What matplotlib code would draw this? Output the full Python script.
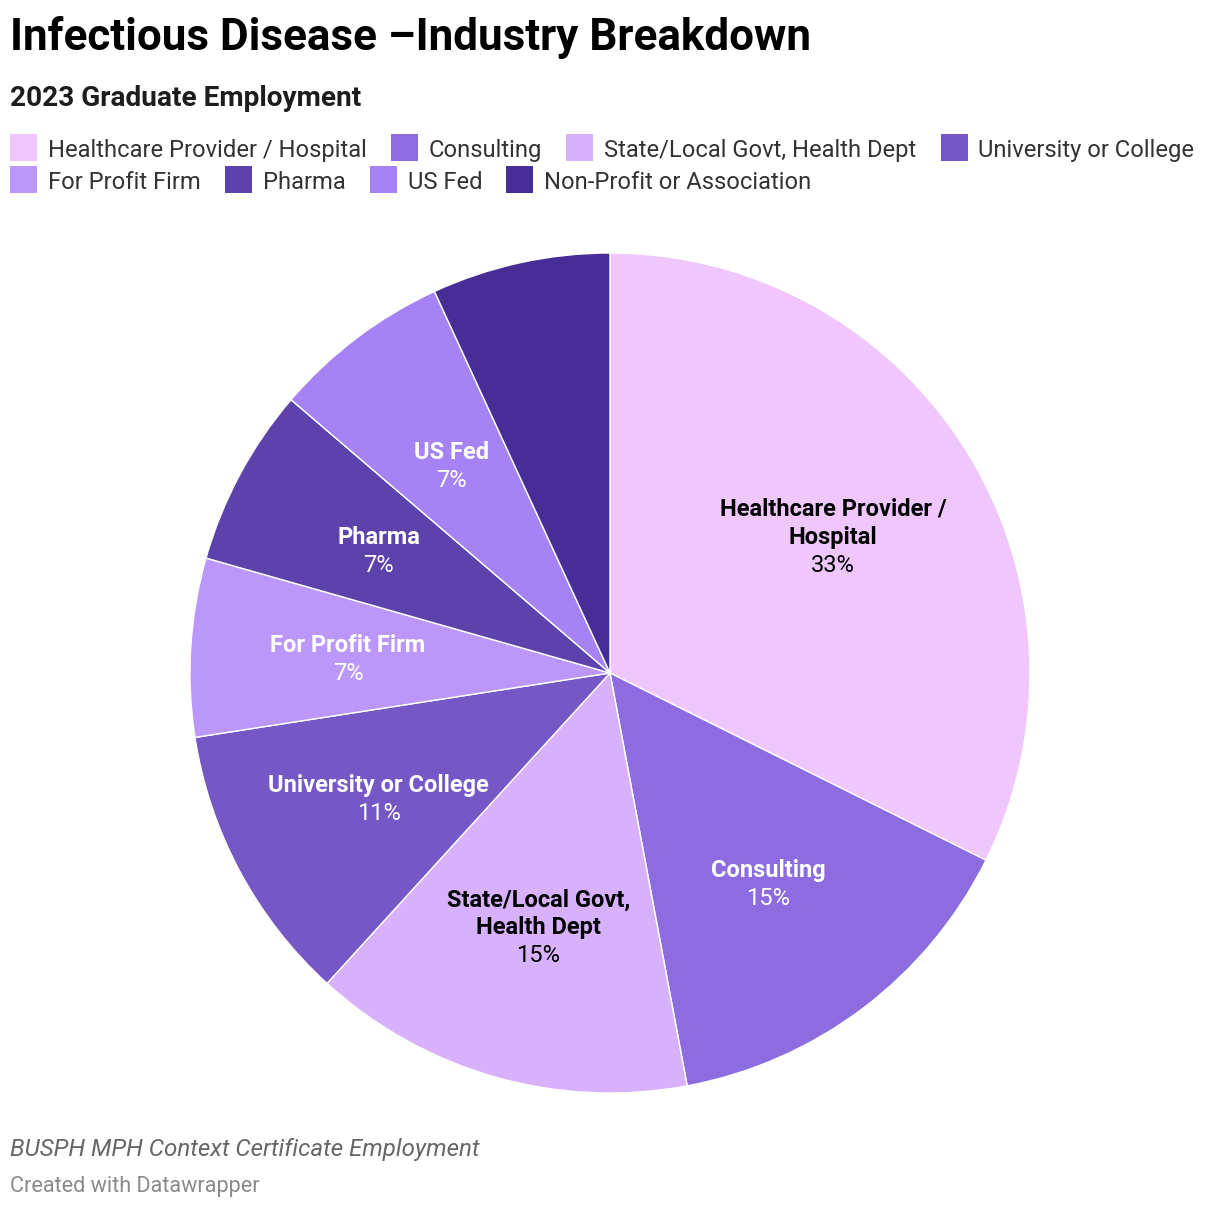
import numpy as np
import matplotlib.pyplot as plt
from matplotlib.patches import Rectangle

plt.rcParams['font.family'] = ['Roboto', 'DejaVu Sans']

# data, clockwise from 12 o'clock
categories = ['Healthcare Provider / Hospital', 'Consulting',
              'State/Local Govt, Health Dept', 'University or College',
              'For Profit Firm', 'Pharma', 'US Fed', 'Non-Profit or Association']
shares = [33, 15, 15, 11, 7, 7, 7, 7]
slice_labels = ['Healthcare Provider /\nHospital', 'Consulting',
                'State/Local Govt,\nHealth Dept', 'University or College',
                'For Profit Firm', 'Pharma', 'US Fed', None]
colors = ['#efc7fd', '#8c6cdf', '#d8b1fc', '#7657c6',
          '#bb97fb', '#5d42ac', '#a583f5', '#472e97']
label_colors = ['black', 'white', 'black', 'white',
                'white', 'white', 'white', 'white']

W, H = 1220, 1208
fig = plt.figure(figsize=(W / 100, H / 100), dpi=100)

# overlay axes in pixel coords for title / legend / footer
bg = fig.add_axes([0, 0, 1, 1])
bg.set_xlim(0, W)
bg.set_ylim(H, 0)
bg.axis('off')

bg.text(10, 50, 'Infectious Disease \u2013Industry Breakdown', fontsize=31.7,
        fontweight='bold', color='#000000', va='baseline')
bg.text(10, 106, '2023 Graduate Employment', fontsize=20.2,
        fontweight='bold', color='#1d1d1d', va='baseline')

# legend, flow layout in two rows
rows = [categories[:4], categories[4:]]
row_y = [148, 180]
fig.canvas.draw()
renderer = fig.canvas.get_renderer()
i = 0
for r, names in enumerate(rows):
    x = 10
    for name in names:
        bg.add_patch(Rectangle((x, row_y[r] - 14), 27, 27, color=colors[i], lw=0))
        t = bg.text(x + 38, row_y[r], name, fontsize=17.1, color='#333333',
                    va='center_baseline')
        bb = t.get_window_extent(renderer)
        x = x + 38 + bb.width + 24
        i += 1

bg.text(10, 1156, 'BUSPH MPH Context Certificate Employment', fontsize=17.4,
        style='italic', color='#666666', va='baseline')
bg.text(10, 1192, 'Created with Datawrapper', fontsize=15.6, color='#8a8a8a',
        va='baseline')

# pie
cx, cy, rad = 610, 673, 420
ax = fig.add_axes([(cx - rad) / W, (H - cy - rad) / H, 2 * rad / W, 2 * rad / H])
wedges, _ = ax.pie(shares, colors=colors, startangle=90, counterclock=False,
                   wedgeprops=dict(edgecolor='white', linewidth=1))
ax.set_xlim(-1, 1)
ax.set_ylim(-1, 1)
ax.set_aspect('equal')
ax.axis('off')

line_h = 28 / rad
for w, lab, share, lc in zip(wedges, slice_labels, shares, label_colors):
    if lab is None:
        continue
    mid = np.deg2rad((w.theta1 + w.theta2) / 2)
    lx, ly = 0.625 * np.cos(mid), 0.625 * np.sin(mid)
    name_lines = lab.split('\n')
    n = len(name_lines) + 1
    top = ly + (n - 1) / 2 * line_h
    for k, ln in enumerate(name_lines):
        ax.text(lx, top - k * line_h, ln, ha='center', va='center_baseline',
                fontsize=17, fontweight='bold', color=lc)
    ax.text(lx, top - (n - 1) * line_h, f'{share}%', ha='center',
            va='center_baseline', fontsize=17, color=lc)

fig.savefig('out.png', dpi=100)
